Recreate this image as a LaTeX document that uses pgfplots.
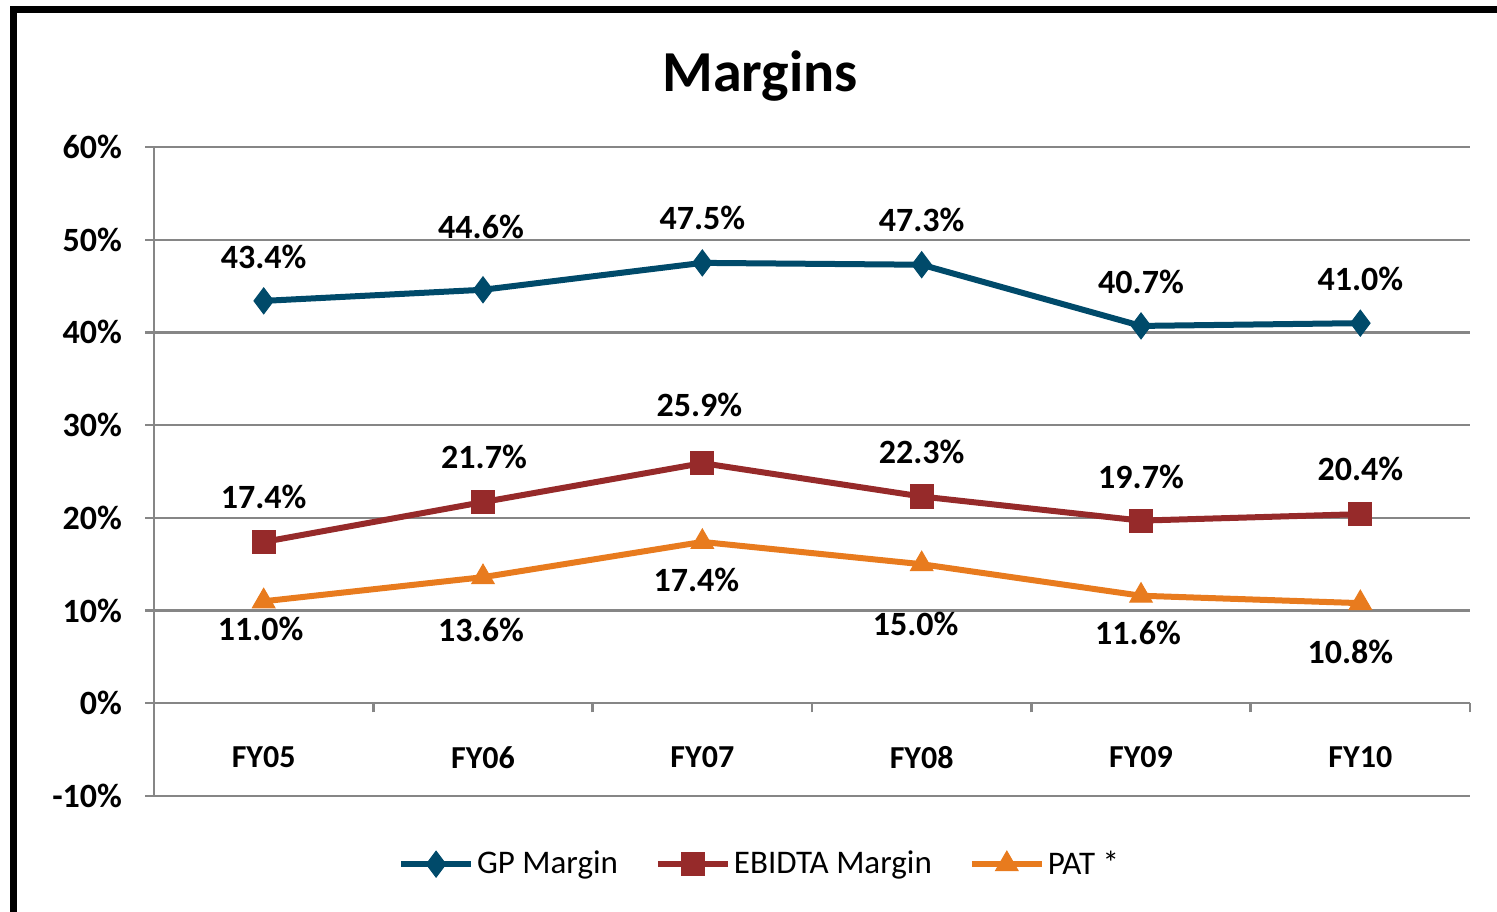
\documentclass[border=0pt]{standalone}
\usepackage{fontspec}
\setmainfont{Carlito}
\usepackage{pgfplots}
\pgfplotsset{compat=1.18}
\definecolor{gpteal}{RGB}{0,74,106}
\definecolor{ebred}{RGB}{150,42,42}
\definecolor{patorange}{RGB}{232,123,30}
\definecolor{axgray}{RGB}{134,134,134}

% x, value, label shift (bp)
\pgfplotstableread{
x  y     dx    dy
0  43.4  0     22
1  44.6  -1    31.5
2  47.5  0     22.5
3  47.3  0     22.5
4  40.7  0     22
5  41.0  0     22
}\gpdata
\pgfplotstableread{
x  y     dx    dy
0  17.4  0     22.5
1  21.7  0.5   22.5
2  25.9  -1.5  29
3  22.3  0     22.5
4  19.7  0     22
5  20.4  0     22.5
}\ebdata
\pgfplotstableread{
x  y     dx    dy
0  11.0  -1.5  -14
1  13.6  -1    -26.5
2  17.4  -3    -19
3  15.0  -3    -30
4  11.6  -1.5  -18.5
5  10.8  -5    -24.5
}\patdata

\begin{document}
\begin{tikzpicture}[x=1bp,y=1bp]
\path[use as bounding box] (0,0) rectangle (748.5,456);
\begin{scope}
\clip (0,0) rectangle (748.5,456);
\draw[line width=3.5bp] (6.5,-20) -- (6.5,451) -- (770,451);
\end{scope}
\node[font=\fontsize{29bp}{34bp}\selectfont\bfseries] at (380,418) {Margins};
\begin{axis}[
    at={(77bp,58bp)}, anchor=south west,
    scale only axis, width=658bp, height=324.5bp,
    xmin=-0.5, xmax=5.5, ymin=-10, ymax=60,
    axis y line*=left, axis x line=middle,
    axis line style={axgray, line width=1.2bp, -},
    ytick={-10,0,...,60},
    yticklabel={\pgfmathprintnumber{\tick}\%},
    ymajorgrids, grid style={axgray, line width=1.2bp},
    xtick={0,...,5},
    xticklabels={FY05,FY06,FY07,FY08,FY09,FY10},
    minor xtick={0.5,1.5,...,5.5},
    major x tick style={draw=none},
    minor x tick style={axgray, line width=1.2bp},
    minor tick length=4.5bp,
    ytick style={axgray, line width=1.2bp},
    major tick length=4.5bp,
    tick align=outside,
    xticklabel style={anchor=center, yshift=-22.5bp, font=\fontsize{16bp}{19bp}\selectfont\bfseries},
    yticklabel style={font=\fontsize{17bp}{20bp}\selectfont\bfseries, xshift=-8bp},
    /pgf/number format/assume math mode=true,
    clip=false,
    nodes near coords={\pgfmathprintnumber[fixed,fixed zerofill,precision=1]{\pgfplotspointmeta}\%},
    point meta=explicit,
    visualization depends on={\thisrow{dx} \as \dx},
    visualization depends on={\thisrow{dy} \as \dy},
    every node near coord/.append style={anchor=center, xshift=\dx bp, yshift=\dy bp,
        font=\fontsize{17bp}{20bp}\selectfont\bfseries, text=black},
    legend columns=3,
    legend style={at={(0.4605,-0.105)}, anchor=center, draw=none, fill=none,
        font=\fontsize{16.5bp}{20bp}\selectfont,
        nodes={inner xsep=1.5bp},
        /tikz/every even column/.append style={column sep=17bp}},
    legend cell align=left,
    legend image code/.code={
        \draw[mark repeat=2, mark phase=2, #1] plot coordinates {(0bp,0bp) (17.5bp,0bp) (35bp,0bp)};},
]
\addplot[gpteal, line width=3bp, mark=diamond*, mark size=6.5bp,
    mark options={solid, line width=0.5bp}]
    table[x=x, y=y, meta=y] {\gpdata};
\addlegendentry{GP Margin}
\addplot[ebred, line width=3bp, mark=square*, mark size=5.8bp,
    mark options={solid, line width=0.5bp}]
    table[x=x, y=y, meta=y] {\ebdata};
\addlegendentry{EBIDTA Margin}
\addplot[patorange, line width=3bp, mark=triangle*, mark size=6.5bp,
    mark options={solid, line width=0.5bp}]
    table[x=x, y=y, meta=y] {\patdata};
\addlegendentry{PAT *}
\end{axis}
\end{tikzpicture}
\end{document}
